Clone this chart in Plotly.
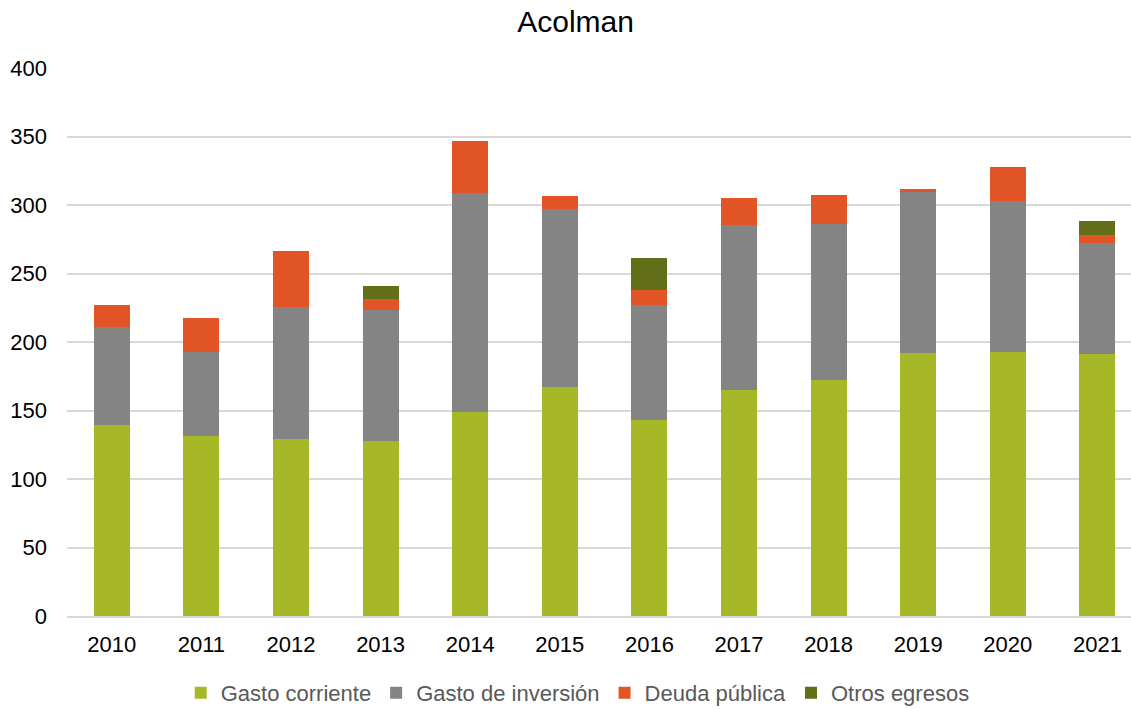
import plotly.graph_objects as go

years = ["2010", "2011", "2012", "2013", "2014", "2015", "2016", "2017", "2018", "2019", "2020", "2021"]
gasto_corriente = [139.4, 131.4, 129.4, 127.7, 148.9, 166.9, 142.8, 165.0, 172.3, 192.0, 192.7, 191.0]
gasto_inversion = [71.8, 61.1, 95.9, 95.7, 159.9, 130.2, 84.2, 120.2, 113.8, 117.5, 110.2, 81.0]
deuda_publica = [15.8, 25.2, 40.9, 7.8, 37.7, 9.2, 10.7, 20.2, 21.2, 2.2, 24.8, 5.9]
otros_egresos = [0, 0, 0, 9.4, 0, 0, 23.4, 0, 0, 0, 0, 10.7]

series = [
    ("Gasto corriente", gasto_corriente, "#A6B727"),
    ("Gasto de inversión", gasto_inversion, "#848484"),
    ("Deuda pública", deuda_publica, "#E05426"),
    ("Otros egresos", otros_egresos, "#636E19"),
]

fig = go.Figure()
for name, vals, color in series:
    fig.add_trace(go.Bar(
        x=years, y=vals, name=name,
        marker=dict(color=color, line=dict(width=0)),
    ))

FONT = "Liberation Sans, Arial, sans-serif"
fig.update_layout(
    barmode="stack",
    bargap=0.6,
    width=1131, height=709,
    margin=dict(l=67, r=0, t=68, b=93),
    paper_bgcolor="white",
    plot_bgcolor="white",
    font=dict(family=FONT, size=22, color="#000000"),
    title=dict(text="Acolman", x=0.478, xref="paper", xanchor="center",
               y=1 - 21.5 / 709, yanchor="middle",
               font=dict(family=FONT, size=30, color="#000000")),
    xaxis=dict(
        type="category",
        range=[-0.5, 11.375],
        showgrid=False,
        showline=True, linecolor="#D9D9D9", linewidth=1.5,
        ticks="",
        ticklabelstandoff=8,
        tickfont=dict(family=FONT, size=22, color="#000000"),
    ),
    yaxis=dict(
        range=[0, 400],
        tickvals=[0, 50, 100, 150, 200, 250, 300, 350, 400],
        showgrid=True, gridcolor="#D9D9D9", gridwidth=1.5,
        zeroline=False,
        showline=False,
        ticks="",
        ticklabelstandoff=19,
        tickfont=dict(family=FONT, size=22, color="#000000"),
    ),
    legend=dict(
        orientation="h",
        xref="paper", x=0.48, xanchor="center",
        yref="container", y=1 - 693 / 709, yanchor="middle",
        font=dict(family=FONT, size=22, color="#595959"),
        itemwidth=30,
        traceorder="normal",
    ),
)

fig.write_html(
    "out.html",
    config={"displayModeBar": False},
    post_script="document.body.style.margin='0';document.body.style.overflow='hidden';",
)
